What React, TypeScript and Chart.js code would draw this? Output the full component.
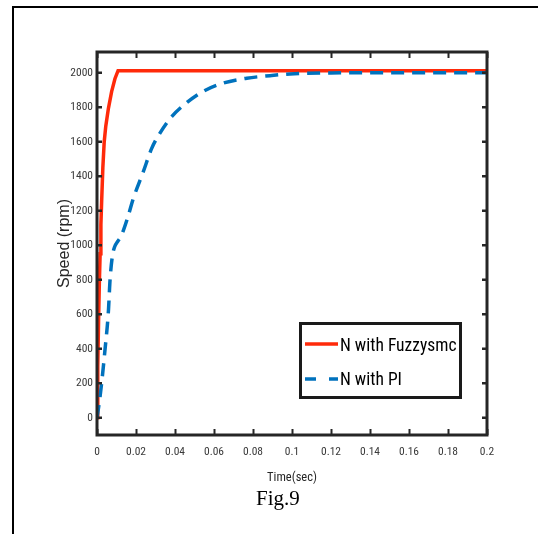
import React, { useEffect, useRef } from 'react';
import { Chart, registerables } from 'chart.js';

Chart.register(...registerables);

// ---- data ----
const fuzzyTime = [0, 0.0004, 0.0008, 0.0012, 0.0016, 0.002, 0.0024, 0.003, 0.0037, 0.0045, 0.0058, 0.0075, 0.0092, 0.0108, 0.012, 0.05, 0.1, 0.15, 0.2];
const fuzzySpeed = [0, 300, 560, 780, 950, 1120, 1260, 1450, 1600, 1690, 1790, 1890, 1965, 2012, 2012, 2012, 2012, 2012, 2012];

const piTime = [0, 0.0012, 0.0024, 0.0041, 0.0058, 0.0067, 0.0078, 0.009, 0.0105, 0.012, 0.0135, 0.016, 0.0186, 0.0237, 0.028, 0.0323, 0.0383, 0.046, 0.0545, 0.0648, 0.0768, 0.0887, 0.099, 0.12, 0.14, 0.2];
const piSpeed = [0, 90, 203, 394, 609, 800, 930, 990, 1020, 1045, 1085, 1170, 1270, 1425, 1560, 1650, 1745, 1826, 1892, 1940, 1968, 1983, 1993, 1999, 2000, 2000];

const seriesLabels = ['N with Fuzzysmc', 'N with PI'];
const seriesColors = ['#ff2a0a', '#0072bd'];

const xTickValues = [0, 0.02, 0.04, 0.06, 0.08, 0.1, 0.12, 0.14, 0.16, 0.18, 0.2];
const xTickLabels = ['0', '0.02', '0.04', '0.06', '0.08', '0.1', '0.12', '0.14', '0.16', '0.18', '0.2'];
const yTickValues = [0, 200, 400, 600, 800, 1000, 1200, 1400, 1600, 1800, 2000];
const yTickLabels = ['0', '200', '400', '600', '800', '1000', '1200', '1400', '1600', '1800', '2000'];

const xTitle = 'Time(sec)';
const yTitle = 'Speed (rpm)';
const figCaption = 'Fig.9';

const NARROW = "'Roboto Condensed', 'DejaVu Sans Condensed', Arial, sans-serif";

const framePlugin = {
  id: 'matlabFrame',
  afterDatasetsDraw(chart: any) {
    const { ctx, chartArea: a, scales } = chart;
    ctx.save();
    ctx.strokeStyle = '#262626';
    ctx.lineWidth = 2;
    ctx.beginPath();
    xTickValues.forEach((v) => {
      const px = Math.round(scales.x.getPixelForValue(v)) + 0.5;
      ctx.moveTo(px, a.bottom);
      ctx.lineTo(px, a.bottom - 6);
      ctx.moveTo(px, a.top);
      ctx.lineTo(px, a.top + 6);
    });
    ctx.stroke();
    ctx.lineWidth = 2.5;
    ctx.beginPath();
    yTickValues.forEach((v) => {
      const py = scales.y.getPixelForValue(v);
      ctx.moveTo(a.left, py);
      ctx.lineTo(a.left + 5, py);
      ctx.moveTo(a.right, py);
      ctx.lineTo(a.right - 5, py);
    });
    ctx.stroke();
    ctx.lineWidth = 3;
    ctx.strokeRect(a.left, a.top, a.right - a.left, a.bottom - a.top);
    ctx.restore();
  },
  afterDraw(chart: any) {
    const { ctx } = chart;
    ctx.save();
    // legend box
    const bx = 300, by = 323, bw = 160, bh = 74;
    ctx.fillStyle = '#ffffff';
    ctx.fillRect(bx, by, bw, bh);
    ctx.strokeStyle = '#1a1a1a';
    ctx.lineWidth = 3;
    ctx.strokeRect(bx + 0.5, by + 0.5, bw, bh);
    // red entry
    ctx.strokeStyle = seriesColors[0];
    ctx.lineWidth = 3.5;
    ctx.beginPath();
    ctx.moveTo(305, 344);
    ctx.lineTo(338, 344);
    ctx.stroke();
    // blue entry
    ctx.strokeStyle = seriesColors[1];
    ctx.beginPath();
    ctx.moveTo(305, 379);
    ctx.lineTo(316, 379);
    ctx.moveTo(329, 379);
    ctx.lineTo(338, 379);
    ctx.stroke();
    ctx.fillStyle = '#000000';
    ctx.font = `17.5px ${NARROW}`;
    ctx.textBaseline = 'middle';
    ctx.textAlign = 'left';
    ctx.fillText(seriesLabels[0], 340, 347);
    ctx.fillText(seriesLabels[1], 340, 381);
    ctx.restore();
  },
};

export default function App() {
  const canvasRef = useRef<HTMLCanvasElement | null>(null);

  useEffect(() => {
    const canvas = canvasRef.current;
    if (!canvas) return;
    const chart = new Chart(canvas, {
      type: 'line',
      data: {
        datasets: [
          {
            label: seriesLabels[0],
            data: fuzzyTime.map((t, i) => ({ x: t, y: fuzzySpeed[i] })),
            borderColor: seriesColors[0],
            borderWidth: 3.5,
            pointRadius: 0,
            tension: 0,
            order: 2,
          },
          {
            label: seriesLabels[1],
            data: piTime.map((t, i) => ({ x: t, y: piSpeed[i] })),
            borderColor: seriesColors[1],
            borderWidth: 3.5,
            borderDash: [13, 8],
            pointRadius: 0,
            cubicInterpolationMode: 'monotone',
            order: 1,
          },
        ],
      },
      options: {
        responsive: false,
        animation: false,
        devicePixelRatio: 1,
        layout: { padding: { top: 52, right: 51, left: 0, bottom: 0 } },
        plugins: { legend: { display: false }, tooltip: { enabled: false } },
        scales: {
          x: {
            type: 'linear',
            min: 0,
            max: 0.2,
            grid: { display: false, drawTicks: false },
            border: { display: false },
            afterBuildTicks: (s: any) => {
              s.ticks = xTickValues.map((v) => ({ value: v }));
            },
            afterFit: (s: any) => {
              s.height = 99;
            },
            ticks: {
              padding: 10,
              maxRotation: 0,
              autoSkip: false,
              color: '#3a3a3a',
              font: { family: NARROW, size: 11.5 },
              callback: (_v: any, i: number) => xTickLabels[i],
            },
            title: {
              display: true,
              text: xTitle,
              color: '#262626',
              font: { family: NARROW, size: 12.5 },
              padding: { top: 0, bottom: 49 },
            },
          },
          y: {
            type: 'linear',
            min: -100,
            max: 2120,
            grid: { display: false, drawTicks: false },
            border: { display: false },
            afterBuildTicks: (s: any) => {
              s.ticks = yTickValues.map((v) => ({ value: v }));
            },
            afterFit: (s: any) => {
              s.width = 97;
            },
            ticks: {
              padding: 4,
              autoSkip: false,
              color: '#3a3a3a',
              font: { family: NARROW, size: 11.5 },
              callback: (_v: any, i: number) => yTickLabels[i],
            },
            title: {
              display: true,
              text: yTitle,
              color: '#262626',
              font: { family: "'Liberation Sans', Arial, sans-serif", size: 16 },
              padding: { top: 55, bottom: 0 },
            },
          },
        },
      },
      plugins: [framePlugin],
    } as any);
    return () => chart.destroy();
  }, []);

  return (
    <div
      style={{
        position: 'fixed',
        left: 0,
        top: 0,
        width: 538,
        height: 534,
        overflow: 'hidden',
        background: '#ffffff',
      }}
    >
      <div
        style={{
          position: 'absolute',
          left: 12,
          top: 6,
          width: 700,
          height: 700,
          border: '2px solid #000',
          boxSizing: 'border-box',
        }}
      />
      <canvas
        ref={canvasRef}
        width={538}
        height={534}
        style={{ position: 'absolute', left: 0, top: 0, width: 538, height: 534, display: 'block' }}
      />
      <div
        style={{
          position: 'absolute',
          left: 0,
          top: 488,
          width: 556,
          textAlign: 'center',
          fontFamily: "'Liberation Serif', 'Times New Roman', serif",
          fontSize: 21,
          lineHeight: '21px',
          color: '#000',
        }}
      >
        {figCaption}
      </div>
    </div>
  );
}
